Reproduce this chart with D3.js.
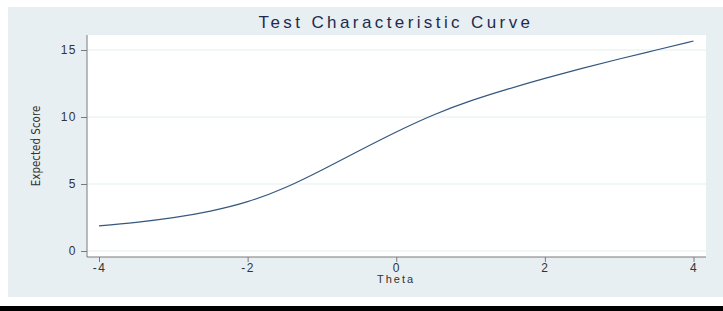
<!DOCTYPE html>
<html>
<head>
<meta charset="utf-8">
<script src="https://cdn.jsdelivr.net/npm/d3@7"></script>
<style>
  body { margin: 0; background: #fff; }
  text { font-family: "Liberation Sans", Arial, sans-serif; }
</style>
</head>
<body>
<div id="chart"></div>
<script>
// curve
const theta = [-4, -3.5, -3, -2.5, -2, -1.5, -1, -0.5, 0, 0.5, 1, 1.5, 2, 2.5, 3, 3.5, 4];
const score = [1.87, 2.14, 2.49, 2.98, 3.68, 4.72, 6.05, 7.48, 8.88, 10.15, 11.2, 12.08, 12.88, 13.63, 14.33, 15.0, 15.67];
const xTicks = [-4, -2, 0, 2, 4];
const yTicks = [0, 5, 10, 15];

const svg = d3.select("#chart")
    .append("svg")
    .attr("width", 723)
    .attr("height", 311);

// outer panel
svg.append("rect")
    .attr("x", 8).attr("y", 7)
    .attr("width", 715).attr("height", 290)
    .attr("fill", "#e8eff2");

svg.append("rect")
    .attr("x", 0).attr("y", 306)
    .attr("width", 723).attr("height", 5)
    .attr("fill", "#000");

const plot = {left: 87, top: 35, right: 706, bottom: 257};

svg.append("rect")
    .attr("x", plot.left).attr("y", plot.top)
    .attr("width", plot.right - plot.left)
    .attr("height", plot.bottom - plot.top)
    .attr("fill", "#fff");

const xScale = d3.scaleLinear().domain([-4, 4]).range([99, 693.5]);
const yScale = d3.scaleLinear().domain([0, 15]).range([251, 50]);

// grid lines
svg.append("g")
    .selectAll("line")
    .data(yTicks)
    .join("line")
    .attr("x1", plot.left).attr("x2", plot.right)
    .attr("y1", d => yScale(d)).attr("y2", d => yScale(d))
    .attr("stroke", "#edf3f5")
    .attr("stroke-width", 1.5);

// y axis
const yAxis = svg.append("g")
    .attr("transform", `translate(${plot.left},0)`)
    .call(d3.axisLeft(yScale).tickValues(yTicks).tickFormat(d => String(d)).tickSize(6).tickPadding(4));
yAxis.select(".domain").attr("d", `M0,${plot.top}V${plot.bottom}`);

// x axis
const xAxis = svg.append("g")
    .attr("transform", `translate(0,${plot.bottom})`)
    .call(d3.axisBottom(xScale).tickValues(xTicks).tickFormat(d => String(d)).tickSize(5).tickPadding(1));
xAxis.select(".domain").attr("d", `M${plot.left},0H${plot.right}`);

svg.selectAll(".domain").attr("stroke", "#7a7a7a");
svg.selectAll(".tick line").attr("stroke", "#7a7a7a");
svg.selectAll(".tick text")
    .attr("fill", "#333")
    .style("font-size", "12px")
    .style("letter-spacing", "1.5px")
    .style("font-family", "'Liberation Sans', Arial, sans-serif");

// curve
const line = d3.line()
    .x((d, i) => xScale(theta[i]))
    .y(d => yScale(d))
    .curve(d3.curveNatural);

svg.append("path")
    .datum(score)
    .attr("d", line)
    .attr("fill", "none")
    .attr("stroke", "#35587e")
    .attr("stroke-width", 1.2);

// title and axis labels
svg.append("text")
    .attr("x", 396).attr("y", 28)
    .attr("text-anchor", "middle")
    .attr("fill", "#1e2b4d")
    .style("font-size", "17px")
    .style("letter-spacing", "3.4px")
    .text("Test Characteristic Curve");

svg.append("text")
    .attr("x", 396).attr("y", 283)
    .attr("text-anchor", "middle")
    .attr("fill", "#333")
    .style("font-size", "11px")
    .style("letter-spacing", "2px")
    .text("Theta");

svg.append("text")
    .attr("transform", "translate(40,146) rotate(-90)")
    .attr("text-anchor", "middle")
    .attr("fill", "#333")
    .style("font-family", "'Liberation Sans Narrow', 'DejaVu Sans Condensed', sans-serif")
    .style("font-size", "11.5px")
    .text("Expected Score");
</script>
</body>
</html>
